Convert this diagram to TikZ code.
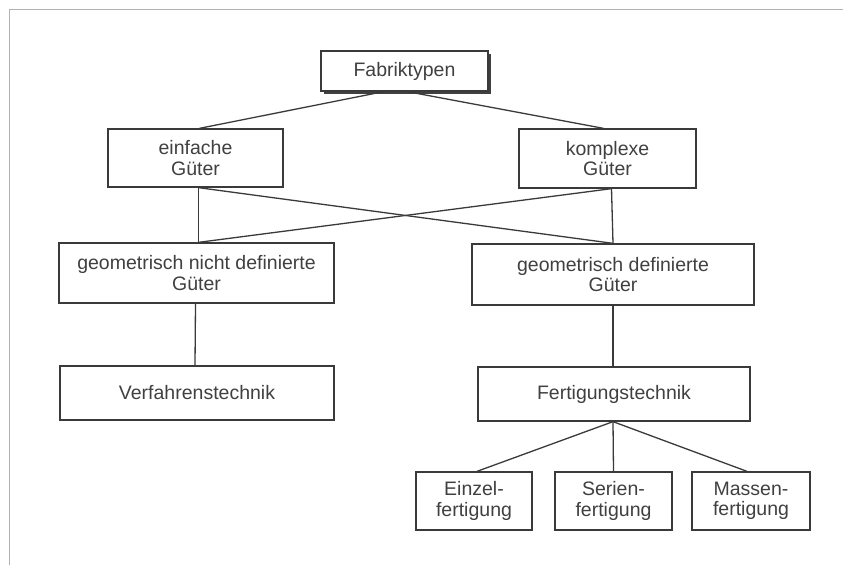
\documentclass[tikz,border=0pt]{standalone}
\usepackage{fontspec}
\setmainfont{Liberation Sans}
\usetikzlibrary{shadows,calc}
\definecolor{ink}{HTML}{3A3A3A}
\definecolor{txt}{HTML}{404040}
\tikzset{
  box/.style={draw=ink, line width=1.3pt, fill=white, inner sep=0pt, align=center,
    text=txt, font=\fontsize{19.5}{20.5}\selectfont},
  conn/.style={draw=ink, line width=1.3pt},
  frameline/.style={draw=black!30, line width=0.8pt}
}
\begin{document}
\begin{tikzpicture}[x=1pt,y=-1pt]
\useasboundingbox (0,0) rectangle (843,565);
\draw[frameline] (843,9) -- (9,9) -- (9,565);

\node[box, minimum width=167pt, minimum height=40pt,
  drop shadow={shadow xshift=3pt, shadow yshift=-3pt, fill=black!75, opacity=1}]
  (fab) at (404.5,71) {Fabriktypen};
\node[box, minimum width=175pt, minimum height=58pt] (einf) at (195.5,158) {einfache\\Güter};
\node[box, minimum width=177pt, minimum height=59pt] (kompl) at (607.5,158.5) {komplexe\\Güter};
\node[box, minimum width=275pt, minimum height=60pt] (gnd) at (196.5,273) {geometrisch nicht definierte\\Güter};
\node[box, minimum width=282pt, minimum height=61pt] (gd) at (613,274.5) {geometrisch definierte\\Güter};
\node[box, minimum width=274pt, minimum height=54pt] (verf) at (197,393) {Verfahrenstechnik};
\node[box, minimum width=272pt, minimum height=54pt] (fert) at (614,394) {Fertigungstechnik};
\node[box, minimum width=116pt, minimum height=58pt] (einz) at (474,501) {Einzel-\\fertigung};
\node[box, minimum width=117pt, minimum height=58pt] (ser) at (613.5,501) {Serien-\\fertigung};
\node[box, minimum width=118pt, minimum height=58pt] (mass) at (751,501) {Massen-\\fertigung};

\draw[conn] ($(fab.south)+(-21,0)$) -- ($(einf.north)+(4,0)$);
\draw[conn] ($(fab.south)+(3,0)$) -- ($(kompl.north)+(-4,0)$);
\draw[conn] ($(einf.south)+(3,0)$) -- ($(gnd.north)+(2,0)$);
\draw[conn] ($(einf.south)+(3,0)$) -- (gd.north);
\draw[conn] ($(kompl.south)+(4,0)$) -- ($(gnd.north)+(2,0)$);
\draw[conn] ($(kompl.south)+(4,0)$) -- (gd.north);
\draw[conn] ($(gnd.south)+(-1,0)$) -- ($(verf.north)+(-2,0)$);
\draw[conn] (gd.south) -- ($(fert.north)+(-1,0)$);
\draw[conn] ($(fert.south)+(-1,0)$) -- ($(einz.north)+(3,0)$);
\draw[conn] ($(fert.south)+(-1,0)$) -- (ser.north);
\draw[conn] ($(fert.south)+(-1,0)$) -- ($(mass.north)+(-4,0)$);
\end{tikzpicture}
\end{document}
